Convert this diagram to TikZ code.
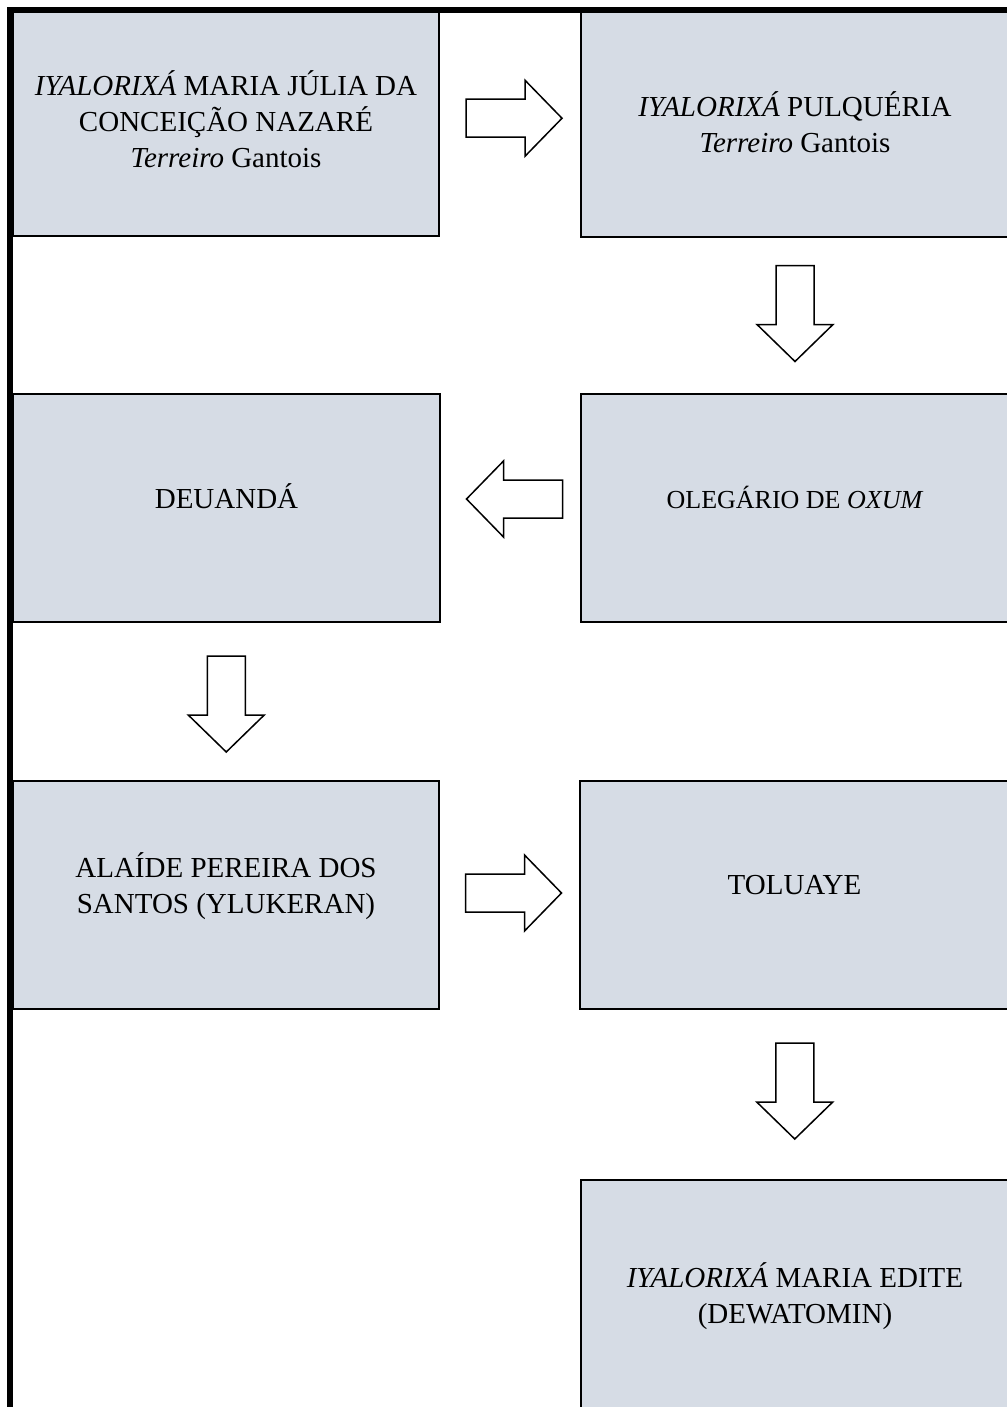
\documentclass[tikz,border=0pt]{standalone}
\usepackage{fontspec}
\setmainfont{Liberation Serif}
\usetikzlibrary{calc}
\definecolor{boxfill}{HTML}{D6DCE5}
\newcommand{\pxu}{0.5pt}
\tikzset{
  stage/.style={draw=black, line width=1pt, fill=boxfill, rectangle, inner sep=0pt,
    minimum width=#1*\pxu},
  stage/.default=426,
  stagetext/.style={align=center, font=\fontsize{14.5}{18}\selectfont, inner sep=0pt},
  smalltext/.style={stagetext, font=\fontsize{13}{16}\selectfont},
  frame/.style={line width=3pt, line cap=butt},
  pics/blockarrow/.style={code={
    \draw[line width=0.75pt, fill=white, line join=miter]
      (-48,-19) -- (11,-19) -- (11,-38) -- (48,0) -- (11,38) -- (11,19) -- (-48,19) -- cycle;}},
}
\begin{document}
\begin{tikzpicture}[x=0.5pt,y=-0.5pt]
\useasboundingbox (0,0) rectangle (1006,1407);
\fill[white] (0,0) rectangle (1006,1407);

% stages of the lineage
\node[stage=426, minimum height=224*\pxu] (b1) at (226,124) {};
\node[stage=428, minimum height=225*\pxu] (b2) at (795,124.5) {};
\node[stage=427, minimum height=228*\pxu] (b3) at (226.5,508) {};
\node[stage=428, minimum height=228*\pxu] (b4) at (795,508) {};
\node[stage=426, minimum height=228*\pxu] (b5) at (226,895) {};
\node[stage=429, minimum height=228*\pxu] (b6) at (794.5,895) {};
\node[stage=428, minimum height=230*\pxu] (b7) at (795,1295) {};

% names
\node[stagetext] (t1) at ($(b1.center)+(0,-5)$) {\textit{IYALORIXÁ} MARIA JÚLIA DA\\CONCEIÇÃO NAZARÉ\\\textit{Terreiro} Gantois};
\node[stagetext] (t2) at ($(b2.center)+(0,-2)$) {\textit{IYALORIXÁ} PULQUÉRIA\\\textit{Terreiro} Gantois};
\node[stagetext] (t3) at ($(b3.center)+(0,-12)$) {DEUANDÁ};
\node[smalltext] (t4) at ($(b4.center)+(0,-11)$) {OLEGÁRIO DE \textit{OXUM}};
\node[stagetext] (t5) at ($(b5.center)+(0,-9)$) {ALAÍDE PEREIRA DOS\\SANTOS (YLUKERAN)};
\node[stagetext] (t6) at ($(b6.center)+(0,-10)$) {TOLUAYE};
\node[stagetext] (t7) at ($(b7.center)+(0,1)$) {\textit{IYALORIXÁ} MARIA EDITE\\(DEWATOMIN)};

% succession arrows
\coordinate (a1) at ($(b1.east)!0.5!(b2.west)+(4,-6)$);
\coordinate (a2) at ($(b2.south)!0.5!(b4.north)+(0,-2)$);
\coordinate (a3) at ($(b3.east)!0.5!(b4.west)+(4,-9)$);
\coordinate (a4) at ($(b3.south)!0.5!(b5.north)+(0,2.5)$);
\coordinate (a5) at ($(b5.east)!0.5!(b6.west)+(4,-2)$);
\coordinate (a6) at ($(b6.south)!0.5!(b7.north)+(0,-3.5)$);
\pic at (a1) {blockarrow};
\pic[rotate=-90] at (a2) {blockarrow};
\pic[rotate=180] at (a3) {blockarrow};
\pic[rotate=-90] at (a4) {blockarrow};
\pic at (a5) {blockarrow};
\pic[rotate=-90] at (a6) {blockarrow};

% outer frame
\draw[frame] (10,1420) -- (10,10) -- (1020,10);
\end{tikzpicture}
\end{document}
